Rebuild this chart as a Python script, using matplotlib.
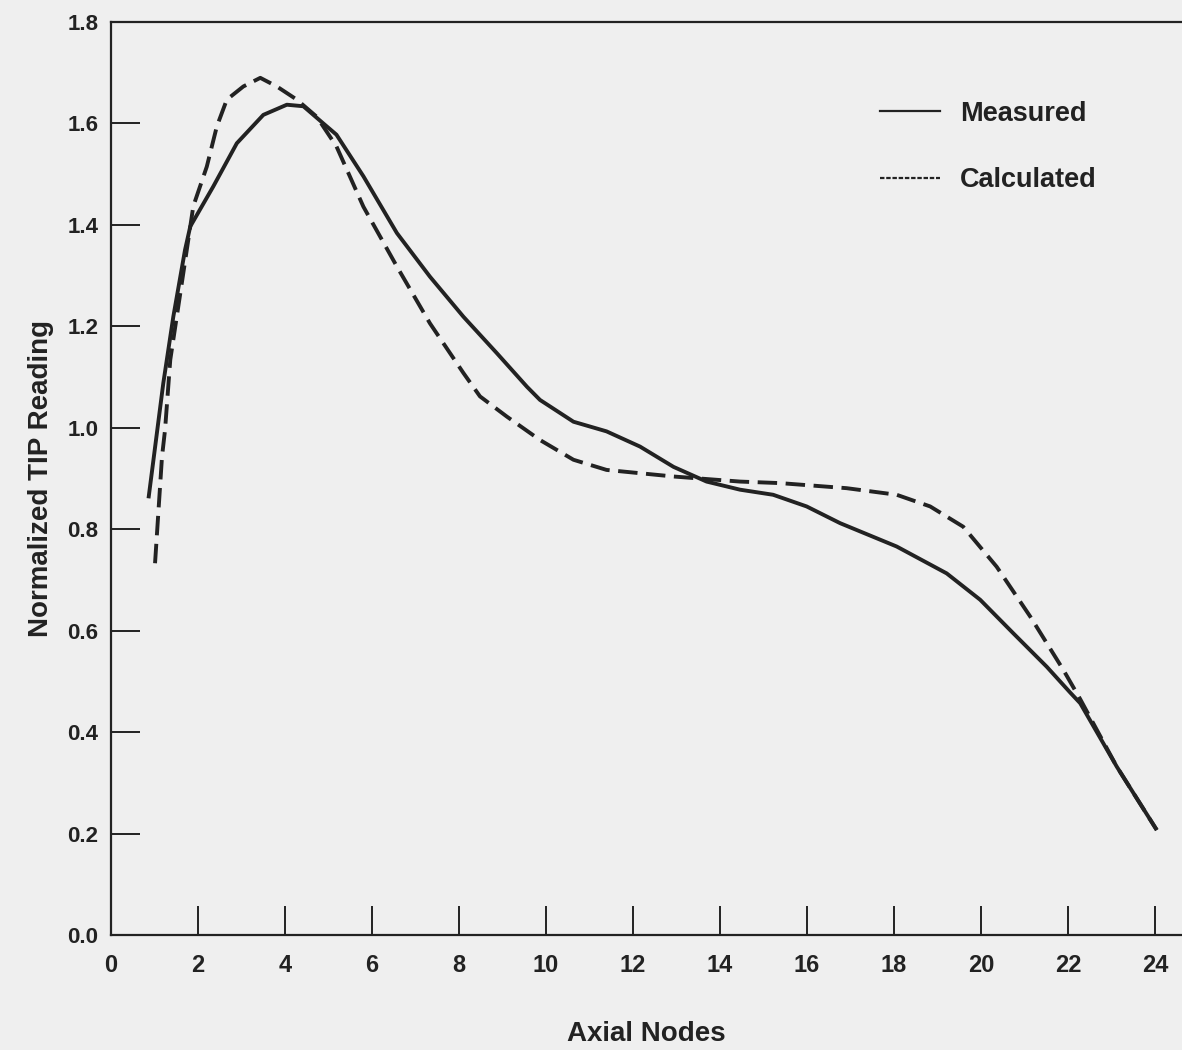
import matplotlib.pyplot as plt
from matplotlib.lines import Line2D

# TIP readings
measured_x = [0.86, 1.20, 1.43, 1.70, 1.82, 2.35, 2.89, 3.50, 4.04, 4.42, 4.88,
              5.18, 5.80, 6.57, 7.33, 8.10, 8.87, 9.56, 9.86, 10.63, 11.39,
              12.16, 12.93, 13.69, 14.46, 15.22, 15.99, 16.76, 18.06, 19.21,
              19.98, 20.74, 21.51, 22.05, 22.28, 23.12, 24.04]
measured_y = [0.861, 1.088, 1.219, 1.351, 1.397, 1.476, 1.561, 1.617, 1.637, 1.634,
              1.600, 1.578, 1.496, 1.384, 1.298, 1.219, 1.147, 1.081, 1.055, 1.012,
              0.993, 0.963, 0.923, 0.894, 0.878, 0.868, 0.845, 0.812, 0.766, 0.713,
              0.661, 0.595, 0.529, 0.478, 0.457, 0.332, 0.207]

calc_x = [1.01, 1.17, 1.24, 1.36, 1.59, 1.89, 2.20, 2.43, 2.66, 3.04, 3.43, 3.81,
          4.27, 4.73, 5.18, 5.80, 6.57, 7.33, 8.10, 8.48, 9.10, 9.86, 10.63,
          11.39, 12.93, 14.46, 15.38, 16.91, 18.06, 18.83, 19.59, 20.36, 21.13,
          21.89, 22.28, 23.12, 24.04]
calc_y = [0.733, 0.943, 0.996, 1.134, 1.265, 1.437, 1.515, 1.594, 1.647, 1.673,
          1.690, 1.673, 1.647, 1.613, 1.555, 1.436, 1.318, 1.206, 1.108, 1.062,
          1.022, 0.976, 0.937, 0.917, 0.904, 0.894, 0.891, 0.881, 0.868, 0.845,
          0.805, 0.726, 0.628, 0.523, 0.465, 0.332, 0.207]

xticks = list(range(0, 25, 2))
yticks = [0.0, 0.2, 0.4, 0.6, 0.8, 1.0, 1.2, 1.4, 1.6, 1.8]

ink = '#222222'
bg = '#efefef'
font = ['Liberation Sans', 'DejaVu Sans']
plt.rcParams['font.family'] = font
plt.rcParams['font.weight'] = 'bold'

fig = plt.figure(figsize=(11.82, 10.5), dpi=100, facecolor=bg)
ax = fig.add_axes([0.094, 0.1095, 0.906, 0.8695], facecolor=bg)

ax.plot(measured_x, measured_y, color=ink, lw=2.8, solid_capstyle='butt',
        solid_joinstyle='round')
ax.plot(calc_x, calc_y, color=ink, lw=2.8, dashes=(5, 2.2))

ax.set_xlim(0, 24.62)
ax.set_ylim(0, 1.8)
ax.set_xticks(xticks)
ax.set_yticks(yticks)
ax.set_yticklabels([f'{v:.1f}' for v in yticks])

ax.spines['right'].set_visible(False)
for s in ['left', 'top', 'bottom']:
    ax.spines[s].set_color(ink)
    ax.spines[s].set_linewidth(1.6)

ax.tick_params(axis='both', direction='in', length=21, width=1.4, color=ink,
               labelsize=16, labelcolor=ink)
ax.tick_params(axis='y', pad=9)
ax.tick_params(axis='x', pad=14, labelsize=17)

ax.set_xlabel('Axial Nodes', fontsize=20, fontweight='bold', color=ink, labelpad=31)
ax.set_ylabel('Normalized TIP Reading', fontsize=20, fontweight='bold', color=ink, labelpad=10)

handles = [Line2D([], [], color=ink, lw=1.6),
           Line2D([], [], color=ink, lw=1.6, dashes=(2, 0.8))]
ax.legend(handles, ['Measured', 'Calculated'], loc='upper left',
          bbox_to_anchor=(0.718, 0.914), frameon=False,
          handlelength=2.2, handletextpad=0.75, labelspacing=1.5,
          borderpad=0, borderaxespad=0, labelcolor=ink,
          prop={'family': font, 'weight': 'bold', 'size': 19.5})

fig.savefig('out.png', dpi=100, facecolor=bg)
